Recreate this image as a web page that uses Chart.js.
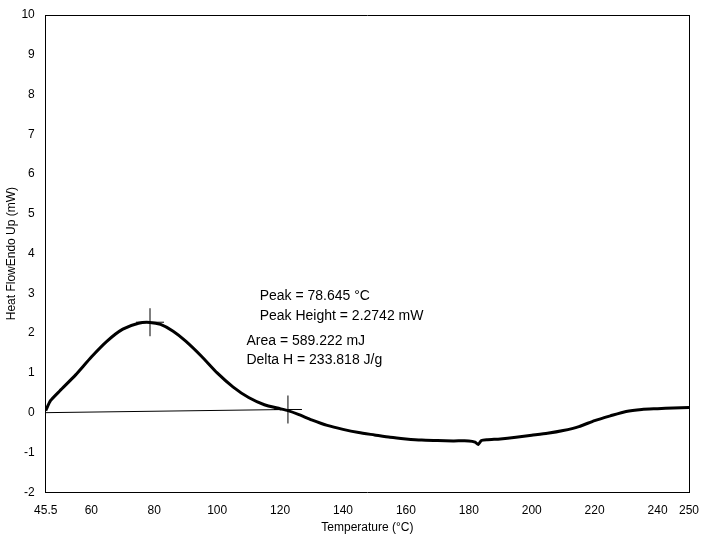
<!DOCTYPE html>
<html>
<head>
<meta charset="utf-8">
<script src="https://cdn.jsdelivr.net/npm/chart.js@4"></script>
<style>
  html, body { margin: 0; padding: 0; background: #fff; }
  #wrap { width: 709px; height: 543px; }
</style>
</head>
<body>
<div id="wrap"><canvas id="dsc"></canvas></div>
<script>
// DSC curve (temperature °C, heat flow mW)
const tempC = [45.5, 47, 50, 55, 60, 65, 70, 75, 78.6, 82, 86, 90, 95, 100, 105, 110, 115, 120, 122.5, 126, 130, 135, 140, 145, 150, 155, 160, 165, 170, 175, 180, 182, 183, 184, 186, 190, 195, 200, 205, 210, 215, 220, 225, 230, 235, 240, 245, 250];
const heatFlow = [0.05, 0.3, 0.55, 0.95, 1.4, 1.8, 2.1, 2.25, 2.27, 2.22, 2.05, 1.8, 1.42, 1.0, 0.65, 0.38, 0.2, 0.1, 0.05, -0.05, -0.18, -0.32, -0.42, -0.5, -0.56, -0.62, -0.66, -0.69, -0.7, -0.71, -0.71, -0.74, -0.8, -0.7, -0.68, -0.66, -0.62, -0.57, -0.52, -0.45, -0.35, -0.2, -0.08, 0.03, 0.08, 0.1, 0.12, 0.13];
const baseT = [45.5, 122.5];
const baseH = [0.0, 0.08];
const markT = [78.645, 122.5];
const markH = [2.2742, 0.08];
const xTicks = [45.5, 60, 80, 100, 120, 140, 160, 180, 200, 220, 240, 250];
const notes = [
  { t: 113.5, h: 2.92, text: "Peak = 78.645 °C" },
  { t: 113.5, h: 2.42, text: "Peak Height = 2.2742 mW" },
  { t: 109.3, h: 1.8, text: "Area = 589.222 mJ" },
  { t: 109.3, h: 1.33, text: "Delta H = 233.818 J/g" }
];

const pts = (xs, ys) => xs.map((x, i) => ({ x, y: ys[i] }));

// draws the result text at data positions
const notesPlugin = {
  id: "notes",
  afterDatasetsDraw(chart) {
    const { ctx, scales } = chart;
    ctx.save();
    ctx.font = "14px Arial, 'Liberation Sans'";
    ctx.fillStyle = "#000";
    ctx.textBaseline = "middle";
    notes.forEach(n => ctx.fillText(n.text, scales.x.getPixelForValue(n.t), scales.y.getPixelForValue(n.h)));
    ctx.restore();
  }
};

new Chart(document.getElementById("dsc"), {
  type: "scatter",
  data: {
    datasets: [
      { data: pts(tempC, heatFlow), showLine: true, borderColor: "#000", borderWidth: 3, pointRadius: 0, tension: 0.2 },
      { data: pts(baseT, baseH), showLine: true, borderColor: "#000", borderWidth: 1, pointRadius: 0 },
      { data: pts(markT, markH), showLine: false, pointStyle: "cross", pointRadius: 14, borderColor: "#000", borderWidth: 1 }
    ]
  },
  options: {
    responsive: true,
    maintainAspectRatio: false,
    animation: false,
    layout: { padding: { top: 0, right: 12, left: 4, bottom: 8 } },
    plugins: { legend: { display: false }, tooltip: { enabled: false } },
    scales: {
      x: {
        type: "linear", min: 45.5, max: 250,
        afterBuildTicks: ax => { ax.ticks = xTicks.map(v => ({ value: v })); },
        grid: { display: false, drawTicks: true },
        border: { color: "#000" },
        ticks: { color: "#000", font: { size: 12, family: "Arial, 'Liberation Sans'" }, maxRotation: 0 },
        title: { display: true, text: "Temperature (°C)", color: "#000", font: { size: 12, family: "Arial, 'Liberation Sans'" }, padding: 0 }
      },
      y: {
        min: -2, max: 10,
        grid: { display: false },
        border: { color: "#000" },
        ticks: { stepSize: 1, color: "#000", font: { size: 12, family: "Arial, 'Liberation Sans'" } },
        title: { display: true, text: "Heat FlowEndo Up (mW)", color: "#000", font: { size: 12, family: "Arial, 'Liberation Sans'" }, padding: 0 }
      },
      x2: { position: "top", type: "linear", min: 45.5, max: 250, grid: { display: false }, ticks: { display: false }, border: { color: "#000" } },
      y2: { position: "right", min: -2, max: 10, grid: { display: false }, ticks: { display: false }, border: { color: "#000" } }
    }
  },
  plugins: [notesPlugin]
});
</script>
</body>
</html>
